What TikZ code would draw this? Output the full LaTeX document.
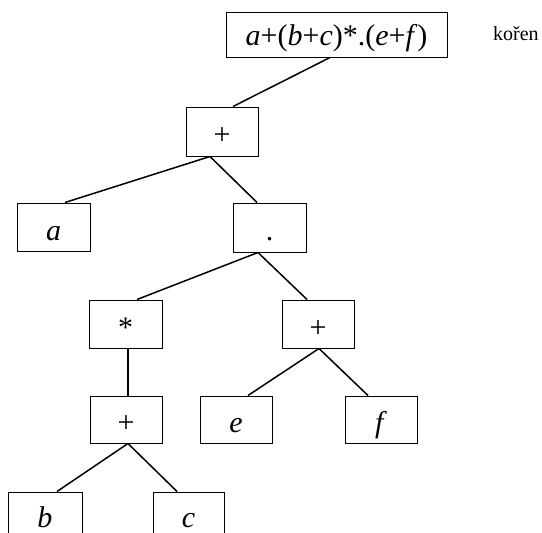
\documentclass[tikz,border=0pt]{standalone}
\usepackage{fontspec}
\setmainfont{Liberation Serif}
\begin{document}
\begin{tikzpicture}[x=1pt,y=-1pt,
  box/.style={draw,line width=1pt,minimum width=72pt,minimum height=48pt,inner sep=0pt,
    text height=26pt,text depth=0pt,font=\fontsize{30}{30}\selectfont},
  edge/.style={line width=1.5pt}]
\useasboundingbox (0,0) rectangle (542,533);
\begin{scope}
\clip (0,0) rectangle (542,533);
\node[box,minimum width=221pt,minimum height=45pt,text height=21pt] (root) at (336.5,34.5)
  {\textit{a}+(\textit{b}+\textit{c})*.(\textit{e}+\textit{f})};
\node[anchor=base west,inner sep=0pt,font=\fontsize{20}{20}\selectfont] (koren) at (493,40) {kořen};
\node[box,minimum height=49pt] (p1) at (222,131.5) {+};
\node[box,minimum width=73pt] (a) at (53.5,227) {\textit{a}};
\node[box,minimum width=73pt,minimum height=49pt] (dot) at (269.5,227.5) {.};
\node[box,minimum width=73pt] (star) at (125.5,324) {*};
\node[box] (p2) at (318,324) {+};
\node[box,minimum height=47pt] (p3) at (126,419.5) {+};
\node[box,minimum height=47pt] (e) at (236,419.5) {\textit{e}};
\node[box,minimum height=47pt] (f) at (381,419.5) {\textit{f}};
\node[box,minimum width=74pt,text height=22pt] (b) at (45,516) {\textit{b}};
\node[box,minimum width=71pt,text height=22pt] (c) at (188.5,516) {\textit{c}};
\draw[edge] ([xshift=-6.5pt]root.south) -- ([xshift=11pt]p1.north);
\draw[edge] ([xshift=-12pt]p1.south) -- ([xshift=11.5pt]a.north);
\draw[edge] ([xshift=-12pt]p1.south) -- ([xshift=-12.5pt]dot.north);
\draw[edge] ([xshift=-11.5pt]dot.south) -- ([xshift=11.5pt]star.north);
\draw[edge] ([xshift=-11.5pt]dot.south) -- ([xshift=-11pt]p2.north);
\draw[edge] ([xshift=2.5pt]star.south) -- ([xshift=2pt]p3.north);
\draw[edge] ([xshift=1pt]p2.south) -- ([xshift=12pt]e.north);
\draw[edge] ([xshift=1pt]p2.south) -- ([xshift=-13pt]f.north);
\draw[edge] ([xshift=2pt]p3.south) -- ([xshift=12pt]b.north);
\draw[edge] ([xshift=2pt]p3.south) -- ([xshift=-11.5pt]c.north);
\end{scope}
\end{tikzpicture}
\end{document}
